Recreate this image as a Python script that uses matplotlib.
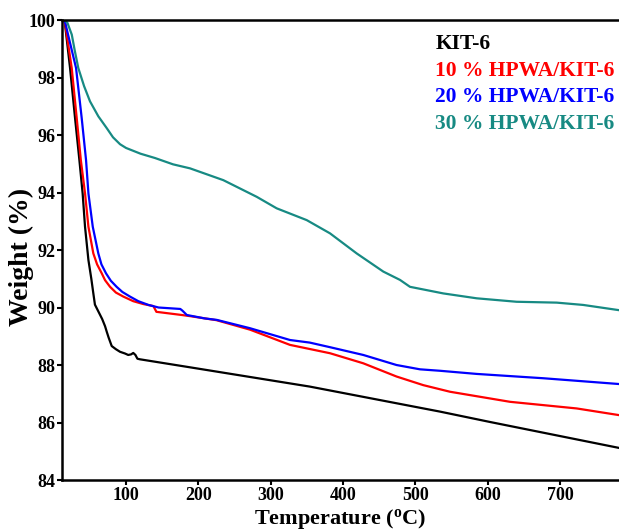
import numpy as np
import matplotlib
matplotlib.use('Agg')
import matplotlib.pyplot as plt

plt.rcParams['font.family'] = ['Liberation Serif', 'DejaVu Serif']
plt.rcParams['font.weight'] = 'bold'
plt.rcParams['mathtext.fontset'] = 'custom'
plt.rcParams['mathtext.rm'] = 'Liberation Serif:bold'
plt.rcParams['mathtext.it'] = 'Liberation Serif:bold'
plt.rcParams['mathtext.bf'] = 'Liberation Serif:bold'

# TGA curves (temperature in C, weight in %)
kit6_T = [15, 22.6, 29.5, 35.5, 40, 43.3, 48, 52, 54.8, 57, 62, 67, 71, 73.3, 76,
          80.2, 86, 91.7, 98.6, 103, 107, 110, 113, 115.7, 119, 188.5, 354, 534, 603, 781]
kit6_W = [100, 98.33, 96.59, 95.13, 93.97, 92.81, 91.65, 91.0, 90.49, 90.1, 89.85, 89.6, 89.35, 89.16, 88.95,
          88.66, 88.55, 88.46, 88.4, 88.35, 88.37, 88.42, 88.35, 88.22, 88.2, 87.92, 87.25, 86.38, 86.02, 85.12]

hpwa10_T = [15, 24.9, 31.8, 37.5, 43.3, 48, 54.8, 60, 66.4, 71, 77.9, 86, 96.3, 110, 124, 137.8, 142,
            177, 188.5, 225, 271.4, 326.7, 382, 428, 474, 511, 548, 631, 723, 781]
hpwa10_W = [100, 98.33, 96.59, 95.13, 93.97, 92.81, 91.88, 91.5, 91.19, 90.95, 90.72, 90.52, 90.38, 90.22, 90.12, 90.05, 89.85,
            89.74, 89.70, 89.56, 89.23, 88.70, 88.41, 88.06, 87.6, 87.30, 87.07, 86.72, 86.49, 86.26]

hpwa20_T = [15, 30.9, 38.7, 44.7, 48, 54, 61.7, 66, 72.3, 79, 87, 95, 105.5, 117, 131, 145,
            175, 178, 184, 209, 225.4, 271.4, 326.7, 354, 382, 428, 474, 506.5, 534, 585, 677, 781]
hpwa20_W = [100, 98.33, 96.59, 95.13, 93.97, 92.81, 91.88, 91.5, 91.19, 90.93, 90.72, 90.54, 90.38, 90.22, 90.09, 90.0,
            89.95, 89.89, 89.74, 89.62, 89.57, 89.28, 88.87, 88.78, 88.62, 88.35, 88.0, 87.85, 87.8, 87.69, 87.54, 87.34]

hpwa30_T = [15, 19, 25, 29, 34, 42, 50.2, 61.7, 73.3, 82, 91.7, 100, 120, 140, 165, 188.5, 234.5, 280.7, 308.3, 349.8,
            382, 419, 455.7, 478.8, 492.6, 538.7, 584.9, 640, 695.5, 732, 781]
hpwa30_W = [100, 99.9, 99.49, 98.95, 98.33, 97.7, 97.17, 96.65, 96.24, 95.92, 95.68, 95.55, 95.35, 95.2, 94.98, 94.84, 94.43, 93.85, 93.45, 93.04,
            92.58, 91.88, 91.25, 90.96, 90.72, 90.49, 90.32, 90.2, 90.17, 90.09, 89.91]

labels = ['KIT-6', '10 % HPWA/KIT-6', '20 % HPWA/KIT-6', '30 % HPWA/KIT-6']
colors = ['#000000', '#ff0000', '#0000ff', '#178a83']

x_ticks = [100, 200, 300, 400, 500, 600, 700]
y_ticks = [84, 86, 88, 90, 92, 94, 96, 98, 100]

fig = plt.figure(figsize=(6.19, 5.32), dpi=100)
ax = fig.add_axes([0.1002, 0.0977, 0.8998, 0.8647])

series = [(kit6_T, kit6_W), (hpwa10_T, hpwa10_W), (hpwa20_T, hpwa20_W), (hpwa30_T, hpwa30_W)]
for (t, w), c in zip(series, colors):
    ax.plot(t, w, color=c, lw=1.6, solid_joinstyle='round')

ax.set_xlim(11.5, 781.6)
ax.set_ylim(84, 100)
ax.set_xticks(x_ticks)
ax.set_yticks(y_ticks)
ax.tick_params(direction='out', length=3.5, width=1.5, labelsize=13, pad=1.5)
for lab in ax.get_xticklabels() + ax.get_yticklabels():
    lab.set_fontweight('bold')

for s in ['left', 'bottom', 'top']:
    ax.spines[s].set_linewidth(1.8)
ax.spines['right'].set_visible(False)

ax.set_xlabel(r'Temperature ($^\mathrm{o}$C)', fontsize=16, fontweight='bold', labelpad=2)
ax.set_ylabel('Weight (%)', fontsize=20, fontweight='bold')
ax.yaxis.set_label_coords(-0.05, 0.485)

ys = [0.947, 0.889, 0.832, 0.774]
for lab, c, y in zip(labels, colors, ys):
    ax.text(0.67, y, lab, color=c, fontsize=15.5, fontweight='bold',
            transform=ax.transAxes, va='center', ha='left')

fig.savefig('out.png', dpi=100)
